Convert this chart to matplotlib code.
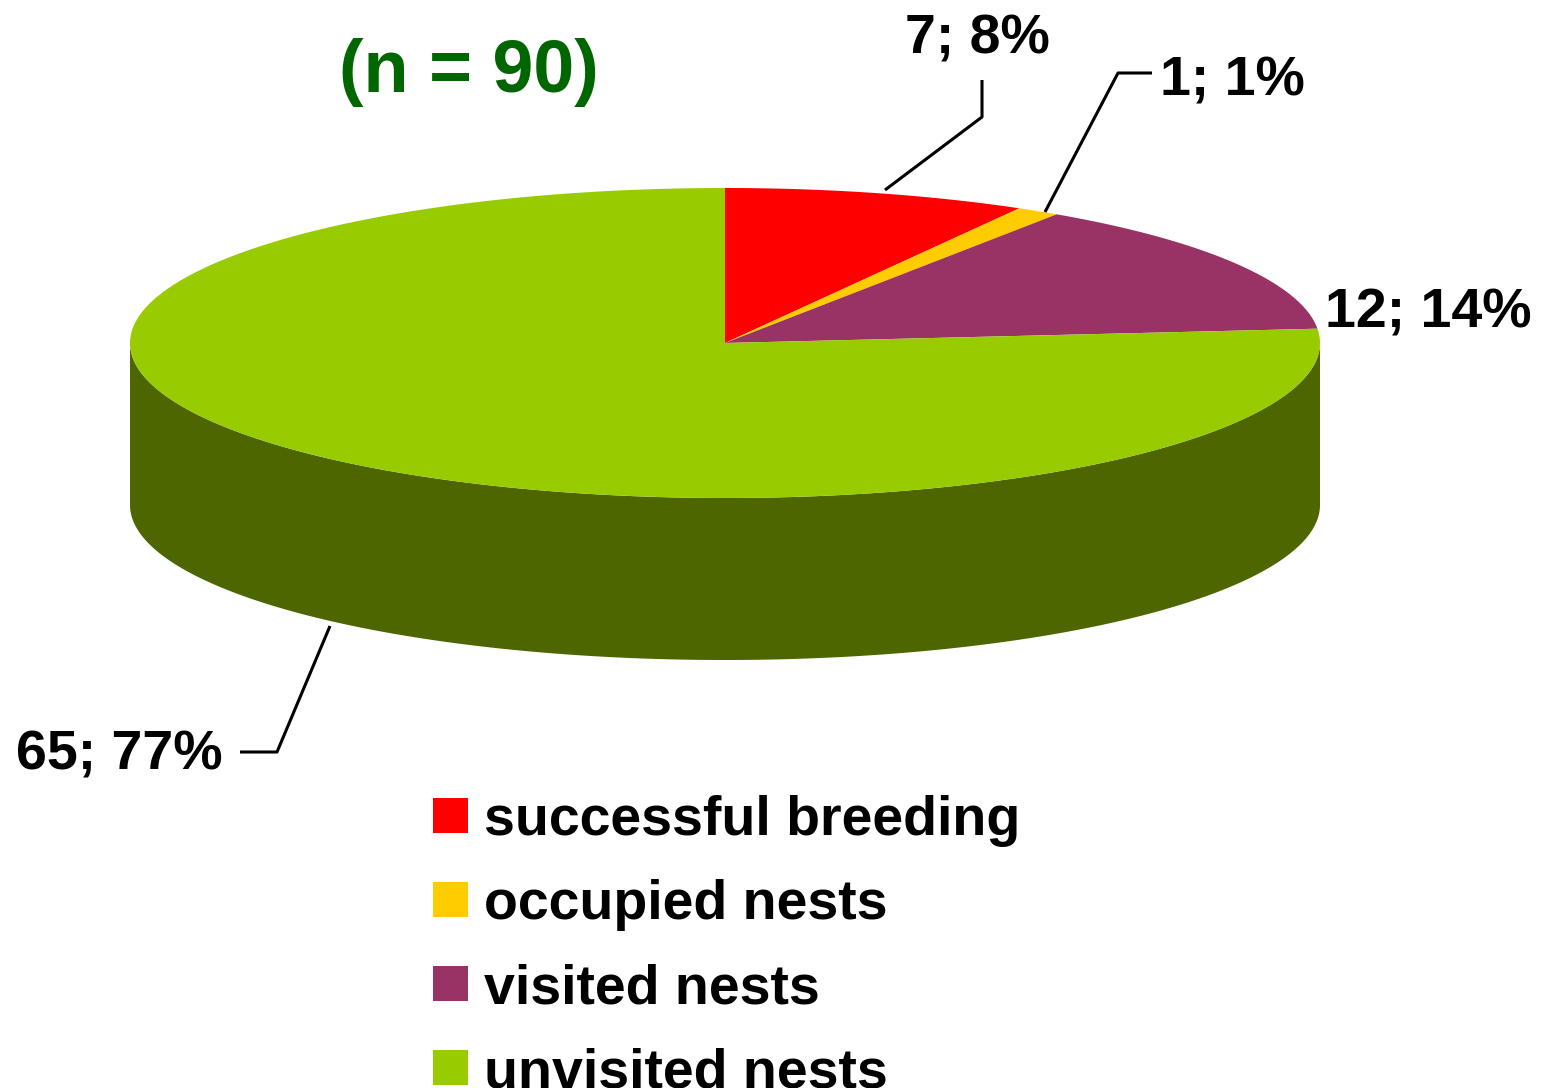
import numpy as np
import matplotlib
matplotlib.use("Agg")
import matplotlib.pyplot as plt
from matplotlib.patches import Polygon, Rectangle
from matplotlib.colors import to_rgb

plt.rcParams['font.family'] = ['Liberation Sans', 'DejaVu Sans']

categories = ["successful breeding", "occupied nests", "visited nests", "unvisited nests"]
counts = [7, 1, 12, 65]
percents = [8, 1, 14, 77]
colors = ["#FF0000", "#FFCC00", "#993366", "#99CC00"]
title = "(n = 90)"

fig = plt.figure(figsize=(15.48, 10.88), dpi=100)
ax = fig.add_axes([0, 0, 1, 1])
ax.set_xlim(0, 1548)
ax.set_ylim(1088, 0)
ax.axis('off')

cx, cy, a, b, depth = 725, 343, 595, 155, 162
total = sum(counts)

def pt(t_deg, dy=0.0):
    t = np.radians(t_deg)
    return cx + a * np.cos(t), cy - b * np.sin(t) + dy

def darken(c, f=0.5):
    r, g, bb = to_rgb(c)
    return (r * f, g * f, bb * f)

cum = np.concatenate([[0], np.cumsum(counts)])
th1 = 90 - cum[:-1] / total * 360
th2 = 90 - cum[1:] / total * 360

# front side walls
for i in range(len(counts)):
    lo, hi = th2[i], th1[i]
    for k in range(-2, 2):
        s_lo = max(lo, -180 + 360 * k)
        s_hi = min(hi, 0 + 360 * k)
        if s_hi > s_lo:
            ts = np.linspace(s_lo, s_hi, 300)
            xt, yt = pt(ts)
            xb, yb = pt(ts[::-1], depth)
            poly = np.column_stack([np.concatenate([xt, xb]), np.concatenate([yt, yb])])
            ax.add_patch(Polygon(poly, closed=True, facecolor=darken(colors[i]),
                                 edgecolor='none', lw=0))

# top faces
for i in range(len(counts)):
    ts = np.linspace(th1[i], th2[i], 400)
    xs, ys = pt(ts)
    poly = np.column_stack([np.concatenate([[cx], xs]), np.concatenate([[cy], ys])])
    ax.add_patch(Polygon(poly, closed=True, facecolor=colors[i], edgecolor='none', lw=0))

# title
ax.text(469, 92, title, fontsize=53, fontweight='bold', color='#006600',
        ha='center', va='baseline')

# data labels
labels = [f"{c}; {p}%" for c, p in zip(counts, percents)]
lab_pos = [(977, 53, 'center'), (1160, 95, 'left'), (1325, 327, 'left'), (223, 770, 'right')]
for lab, (x, y, ha) in zip(labels, lab_pos):
    ax.text(x, y, lab, fontsize=40, fontweight='bold', color='black', ha=ha, va='baseline')

# leader lines
leaders = [
    [(885, 190), (982, 117), (982, 80)],
    [(1045, 212), (1118, 73), (1152, 73)],
    None,
    [(330, 626), (277, 752), (240, 752)],
]
for ld in leaders:
    if ld:
        xs, ys = zip(*ld)
        ax.plot(xs, ys, color='black', lw=2.2, solid_capstyle='butt')

# legend
for i, cat in enumerate(categories):
    y0 = 798 + i * 84
    ax.add_patch(Rectangle((433, y0), 35, 35, facecolor=colors[i], edgecolor='none'))
    ax.text(484, y0 + 37, cat, fontsize=40, fontweight='bold', color='black',
            ha='left', va='baseline')

fig.savefig("out.png", dpi=100)
